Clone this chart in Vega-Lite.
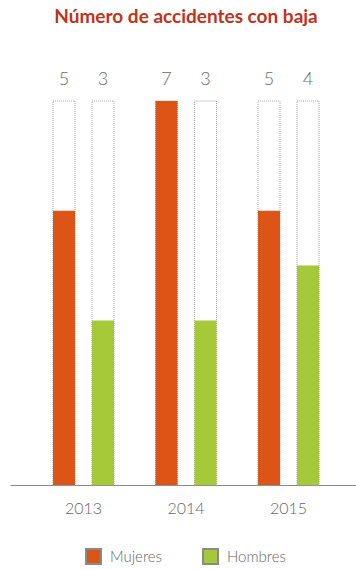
{
  "$schema": "https://vega.github.io/schema/vega-lite/v6.json",
  "width": 352,
  "height": 384,
  "autosize": {"type": "none"},
  "padding": {"left": 10, "top": 101, "right": 0, "bottom": 85},
  "background": "white",
  "title": {
    "text": "Número de accidentes con baja",
    "font": "Lato",
    "fontSize": 19,
    "fontWeight": "bold",
    "color": "#C1311B",
    "anchor": "middle",
    "frame": "group",
    "offset": 44
  },
  "config": {"view": {"stroke": null}},
  "data": {
    "values": [
      {"year": "2013", "sexo": "Mujeres", "value": 5},
      {"year": "2013", "sexo": "Hombres", "value": 3},
      {"year": "2014", "sexo": "Mujeres", "value": 7},
      {"year": "2014", "sexo": "Hombres", "value": 3},
      {"year": "2015", "sexo": "Mujeres", "value": 5},
      {"year": "2015", "sexo": "Hombres", "value": 4}
    ]
  },
  "encoding": {
    "x": {
      "field": "year",
      "type": "nominal",
      "scale": {"paddingInner": 0, "paddingOuter": 0.217},
      "axis": {
        "title": null,
        "labelAngle": 0,
        "ticks": false,
        "tickSize": 0,
        "domainColor": "#8a8a8a",
        "domainWidth": 1,
        "labelFont": "Lato",
        "labelFontWeight": 300,
        "labelFontSize": 16,
        "labelColor": "#666666",
        "labelPadding": 15
      }
    },
    "xOffset": {
      "field": "sexo",
      "type": "nominal",
      "sort": ["Mujeres", "Hombres"],
      "scale": {"paddingInner": 0.436, "paddingOuter": 0.532}
    }
  },
  "layer": [
    {
      "mark": {"type": "bar", "fill": "white", "stroke": "#a8a8a8", "strokeWidth": 1, "strokeDash": [1, 1]},
      "encoding": {
        "y": {"datum": 7, "type": "quantitative", "scale": {"domain": [0, 7], "nice": false}, "axis": null}
      }
    },
    {
      "mark": {"type": "bar"},
      "encoding": {
        "y": {"field": "value", "type": "quantitative", "scale": {"domain": [0, 7], "nice": false}, "axis": null},
        "color": {
          "field": "sexo",
          "type": "nominal",
          "sort": ["Mujeres", "Hombres"],
          "scale": {"domain": ["Mujeres", "Hombres"], "range": ["#DD5516", "#A5C939"]},
          "legend": {
            "title": null,
            "orient": "none",
            "legendX": 75,
            "legendY": 447,
            "direction": "horizontal",
            "symbolType": "square",
            "symbolSize": 225,
            "symbolStrokeColor": "#8a8a8a",
            "symbolStrokeWidth": 2,
            "symbolOpacity": 1,
            "labelFont": "Lato",
            "labelFontWeight": 300,
            "labelFontSize": 15,
            "labelColor": "#666666",
            "labelOffset": 8,
            "columnPadding": 37,
            "padding": 0
          }
        }
      }
    },
    {
      "mark": {"type": "text", "font": "Lato", "fontWeight": 300, "fontSize": 18, "color": "#6b6b6b", "baseline": "alphabetic", "dy": -16},
      "encoding": {
        "y": {"datum": 7, "type": "quantitative", "scale": {"domain": [0, 7], "nice": false}, "axis": null},
        "text": {"field": "value", "type": "quantitative"}
      }
    }
  ]
}
